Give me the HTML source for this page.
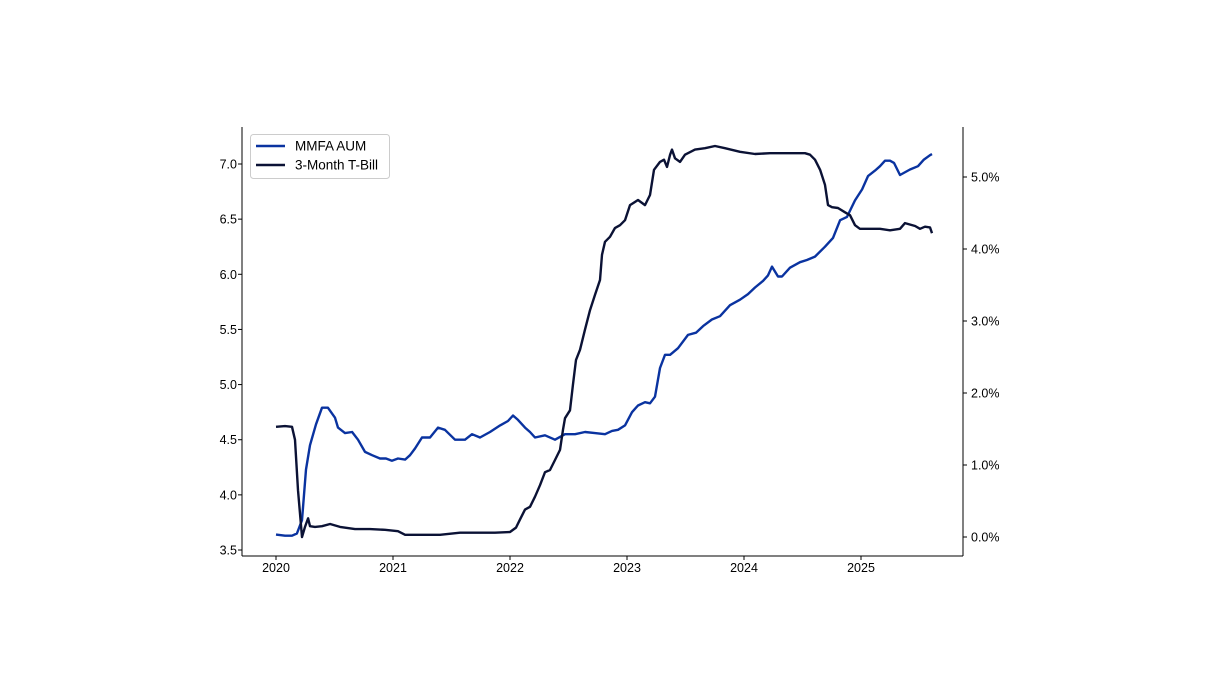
<!DOCTYPE html>
<html><head><meta charset="utf-8"><style>
body{margin:0;background:#fff;}
svg{display:block;font-family:"Liberation Sans",sans-serif;}
</style></head><body>
<svg id="chart" width="1216" height="687"></svg>
<script>
const aumYears=[0,.077,.137,.179,.222,.256,.291,.342,.393,.444,.504,.530,.590,.650,.701,.761,.821,.889,.940,.991,1.043,1.103,1.145,1.188,1.248,1.316,1.385,1.444,1.530,1.615,1.675,1.744,1.829,1.915,1.983,2.026,2.068,2.128,2.171,2.214,2.299,2.385,2.470,2.556,2.641,2.726,2.812,2.872,2.923,2.983,3.043,3.094,3.154,3.197,3.239,3.282,3.325,3.368,3.436,3.521,3.590,3.650,3.726,3.795,3.880,3.966,4.034,4.094,4.162,4.205,4.239,4.291,4.325,4.393,4.479,4.538,4.607,4.692,4.761,4.821,4.880,4.949,5.009,5.060,5.120,5.162,5.205,5.248,5.282,5.333,5.419,5.487,5.538,5.590,5.607];
const aumValues=[3.64,3.63,3.63,3.65,3.77,4.23,4.45,4.64,4.79,4.79,4.70,4.61,4.56,4.57,4.50,4.39,4.36,4.33,4.33,4.31,4.33,4.32,4.36,4.42,4.52,4.52,4.61,4.59,4.50,4.50,4.55,4.52,4.57,4.63,4.67,4.72,4.68,4.61,4.57,4.52,4.54,4.50,4.55,4.55,4.57,4.56,4.55,4.58,4.59,4.63,4.75,4.81,4.84,4.83,4.89,5.15,5.27,5.27,5.33,5.45,5.47,5.53,5.59,5.62,5.72,5.77,5.82,5.88,5.94,5.99,6.07,5.98,5.98,6.06,6.11,6.13,6.16,6.25,6.33,6.49,6.52,6.67,6.77,6.89,6.94,6.98,7.03,7.03,7.01,6.90,6.95,6.98,7.04,7.08,7.09,7.16];
const billYears=[0,.077,.137,.162,.188,.222,.248,.274,.291,.333,.393,.462,.547,.675,.803,.932,1.043,1.103,1.231,1.402,1.573,1.744,1.872,2.0,2.051,2.085,2.128,2.171,2.214,2.256,2.299,2.342,2.385,2.427,2.453,2.470,2.513,2.538,2.564,2.598,2.641,2.684,2.726,2.769,2.786,2.812,2.855,2.897,2.940,2.983,3.026,3.094,3.154,3.197,3.231,3.282,3.316,3.342,3.368,3.385,3.410,3.453,3.496,3.581,3.667,3.752,3.838,3.966,4.094,4.222,4.393,4.521,4.564,4.607,4.650,4.692,4.718,4.752,4.803,4.863,4.906,4.949,4.991,5.077,5.162,5.248,5.333,5.376,5.462,5.504,5.547,5.590,5.607];
const billValues=[1.53,1.54,1.53,1.35,0.65,0,0.14,0.26,0.15,0.14,0.15,0.18,0.14,0.11,0.11,0.10,0.08,0.03,0.03,0.03,0.06,0.06,0.06,0.07,0.13,0.24,0.38,0.42,0.56,0.72,0.90,0.93,1.07,1.21,1.49,1.65,1.76,2.11,2.46,2.60,2.88,3.15,3.36,3.57,3.92,4.10,4.17,4.29,4.33,4.40,4.61,4.68,4.61,4.75,5.10,5.21,5.24,5.14,5.31,5.38,5.26,5.21,5.31,5.38,5.40,5.43,5.40,5.35,5.32,5.33,5.33,5.33,5.31,5.24,5.10,4.89,4.61,4.58,4.57,4.51,4.47,4.33,4.28,4.28,4.28,4.26,4.28,4.36,4.32,4.28,4.31,4.30,4.22];
const leftTicks=[3.5,4.0,4.5,5.0,5.5,6.0,6.5,7.0];
const rightTicks=[0,1,2,3,4,5];
const xTicks=[2020,2021,2022,2023,2024,2025];

const NS='http://www.w3.org/2000/svg';
const svg=document.getElementById('chart');
const X0=242,X1=963,Y0=127,Y1=556;
const xs=y=>276+117*(y-2020);
const yl=v=>164+(7.0-v)*110.29;
const yr=p=>537-p*72;
function el(t,a,txt){const e=document.createElementNS(NS,t);for(const k in a)e.setAttribute(k,a[k]);if(txt!==undefined)e.textContent=txt;svg.appendChild(e);return e;}

let s=el('line',{x1:X0,y1:Y0,x2:X0,y2:Y1,stroke:'#000','stroke-width':1});


s=el('line',{x1:X1,y1:Y0,x2:X1,y2:Y1,stroke:'#000','stroke-width':1});


s=el('line',{x1:X0,y1:Y1,x2:X1,y2:Y1,stroke:'#000','stroke-width':1});



leftTicks.forEach(v=>{const y=yl(v);
el('line',{x1:X0-4,y1:y,x2:X0,y2:y,stroke:'#000'});
const t=el('text',{x:X0-5,y:y+4.5,'font-size':12.5,'text-anchor':'end',fill:'#000'},v.toFixed(1));

});
rightTicks.forEach(v=>{const y=yr(v);
el('line',{x1:X1,y1:y,x2:X1+4,y2:y,stroke:'#000'});
const t=el('text',{x:X1+8,y:y+4.5,'font-size':12.5,fill:'#000'},v.toFixed(1)+'%');

});
xTicks.forEach(v=>{const x=xs(v);
el('line',{x1:x,y1:Y1,x2:x,y2:Y1+4,stroke:'#000'});
const t=el('text',{x:x,y:Y1+16,'font-size':12.5,'text-anchor':'middle',fill:'#000'},String(v));

});

const aumPts=aumYears.map((d,i)=>xs(2020+d).toFixed(1)+','+yl(aumValues[i]).toFixed(1)).join(' ');
const p1=el('polyline',{points:aumPts,fill:'none',stroke:'#0a33a0','stroke-width':2.4,'stroke-linejoin':'round'});


const billPts=billYears.map((d,i)=>xs(2020+d).toFixed(1)+','+yr(billValues[i]).toFixed(1)).join(' ');
const p2=el('polyline',{points:billPts,fill:'none',stroke:'#0b1235','stroke-width':2.4,'stroke-linejoin':'round'});



const lg=el('rect',{x:250.5,y:134.5,width:139,height:44,rx:3,fill:'#fff',stroke:'#ccc'});


el('line',{x1:256,y1:146,x2:285,y2:146,stroke:'#0a33a0','stroke-width':2.4});
let lt=el('text',{x:295,y:150.5,'font-size':13.5,fill:'#000'},'MMFA AUM');


el('line',{x1:256,y1:165,x2:285,y2:165,stroke:'#0b1235','stroke-width':2.4});
lt=el('text',{x:295,y:169.5,'font-size':13.5,fill:'#000'},'3-Month T-Bill');


</script>
</body></html>
